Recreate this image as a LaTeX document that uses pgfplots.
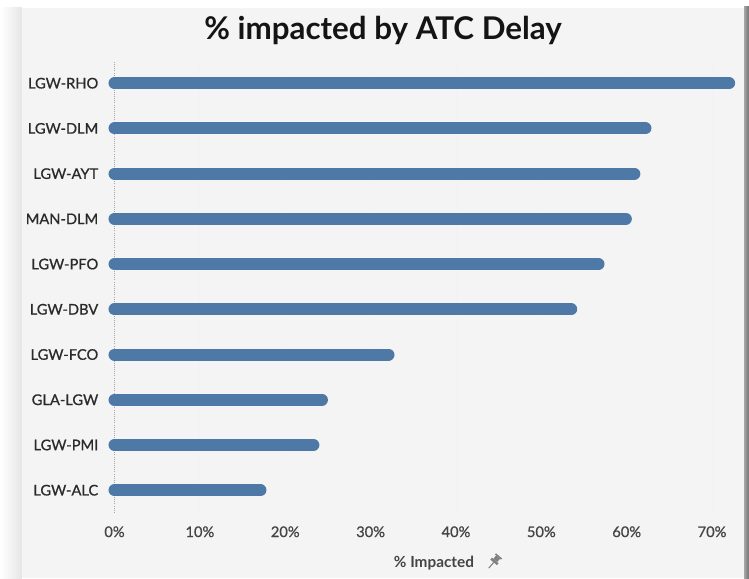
\documentclass[border=0pt]{standalone}
\usepackage{fontspec}
\setmainfont{Lato}
\newfontfamily\semib[FakeBold=0.8]{Lato}
\usepackage{pgfplots}
\pgfplotsset{compat=1.18}
\usepackage{pgfplotstable}
\definecolor{barblue}{HTML}{4E79A7}
\definecolor{panel}{HTML}{F4F4F4}
\definecolor{ylab}{HTML}{2A2A2A}
\definecolor{xlab}{HTML}{444444}
\pgfplotstableread{
idx value
0 17.1
1 23.3
2 24.3
3 32.1
4 53.5
5 56.7
6 59.9
7 60.9
8 62.2
9 72.0
}\routes
\begin{document}
\begin{tikzpicture}
% background card
\fill[white] (-85.875pt,-48.9pt) rectangle (475.875pt,384.6pt);
\shade[left color=white, right color=black!10] (-85.875pt,-48.9pt) rectangle (-69.375pt,378.6pt);
\fill[panel] (-69.375pt,-48.9pt) rectangle (472.125pt,378.6pt);
\shade[left color=black!35, right color=black!55] (472.125pt,-48.9pt) rectangle (475.875pt,380pt);
\begin{axis}[
  scale only axis,
  width=469.3pt, height=339.15pt,
  xmin=0, xmax=73.3,
  ymin=-0.5, ymax=9.5,
  clip=false,
  axis line style={draw=none},
  major tick length=0pt,
  xtick={0,10,...,70},
  xticklabel={\pgfmathprintnumber{\tick}\%},
  /pgf/number format/assume math mode=true,
  xmajorgrids,
  grid style={color=black!5, line width=0.6pt},
  extra x ticks={0},
  extra x tick labels={},
  extra x tick style={grid style={densely dotted, color=black!35, line width=0.6pt}},
  ytick={0,...,9},
  yticklabels={LGW-ALC,LGW-PMI,GLA-LGW,LGW-FCO,LGW-DBV,LGW-PFO,MAN-DLM,LGW-AYT,LGW-DLM,LGW-RHO},
  yticklabel style={font=\semib\fontsize{11}{13}\selectfont, text=ylab, inner sep=0pt, xshift=-12pt},
  xticklabel style={font=\semib\fontsize{11}{13}\selectfont, text=xlab, inner sep=0pt, yshift=-10pt},
]
\addplot[xcomb, draw=barblue, line width=9pt, line cap=round] table[x=value, y=idx] {\routes};
\end{axis}
% title
\node[font=\fontsize{23.5}{28}\selectfont\bfseries, text=black!92] at (201.4pt,362.1pt) {\% impacted by ATC Delay};
% x axis label
\node[font=\fontsize{11.5}{13}\selectfont\bfseries, text=xlab] at (239.6pt,-37.6pt) {\% Impacted};
% pin icon
\begin{scope}[shift={(284pt,-37.6pt)}, rotate=-40, black!50, scale=1.35]
\fill (-2.4pt,0.4pt) rectangle (2.4pt,1.8pt);
\fill (-1.4pt,1.8pt) rectangle (1.4pt,4.2pt);
\fill (-2.2pt,4.2pt) rectangle (2.2pt,5.1pt);
\draw[line width=0.8pt] (0,0.4pt) -- (0,-3.8pt);
\end{scope}
\end{tikzpicture}
\end{document}
